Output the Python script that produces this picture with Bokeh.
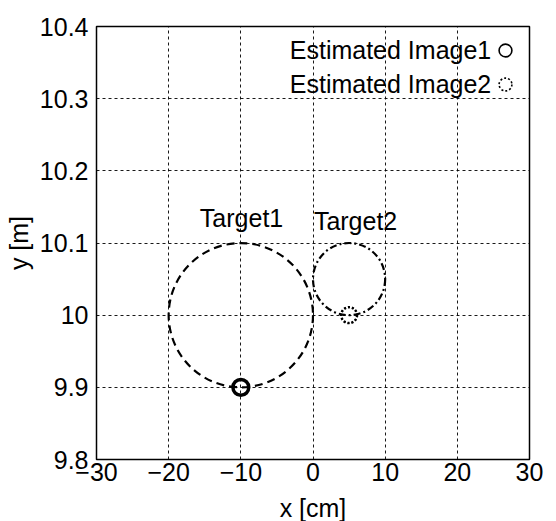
from bokeh.plotting import figure
from bokeh.models import Range1d, Label, Legend, LegendItem
from bokeh.embed import file_html
from bokeh.resources import INLINE

# ---- data ----
target_names = ["Target1", "Target2"]
target_x = [-10.0, 5.0]       # centre x [cm]
target_y = [10.0, 10.05]      # centre y [m]
target_rx = [10.0, 5.0]       # radius in x [cm]
target_ry = [0.10, 0.05]      # radius in y [m]
est_names = ["Estimated Image1", "Estimated Image2"]
est_x = [-10.0, 5.0]
est_y = [9.9, 10.0]
x_ticks = [-30, -20, -10, 0, 10, 20, 30]
y_ticks = [9.8, 9.9, 10.0, 10.1, 10.2, 10.3, 10.4]
y_tick_labels = ["9.8", "9.9", "10", "10.1", "10.2", "10.3", "10.4"]

FONT = "Liberation Sans"
FS = "25px"

p = figure(frame_width=433, frame_height=433,
           x_range=Range1d(-30, 30), y_range=Range1d(9.8, 10.4),
           output_backend="svg", toolbar_location=None,
           min_border_left=96, min_border_top=26, min_border_right=17, min_border_bottom=54)

p.background_fill_color = "white"
p.border_fill_color = "white"
p.outline_line_color = "black"
p.outline_line_width = 1.5
p.outline_line_alpha = 1.0

# grids
p.xgrid.ticker = x_ticks
p.ygrid.ticker = y_ticks
for g in (p.xgrid, p.ygrid):
    g.grid_line_color = "black"
    g.grid_line_dash = "3 3"
    g.grid_line_width = 1
    g.grid_line_alpha = 0.9

# axes
p.xaxis.ticker = x_ticks
p.yaxis.ticker = y_ticks
p.yaxis.major_label_overrides = {v: s for v, s in zip(y_ticks, y_tick_labels)}
p.xaxis.axis_label = "x [cm]"
p.yaxis.axis_label = "y [m]"
for ax in (p.xaxis, p.yaxis):
    ax.axis_line_color = None
    ax.major_tick_in = 0
    ax.major_tick_out = 0
    ax.minor_tick_line_color = None
    ax.major_label_text_font = FONT
    ax.major_label_text_font_size = FS
    ax.major_label_text_color = "black"
    ax.axis_label_text_font = FONT
    ax.axis_label_text_font_size = FS
    ax.axis_label_text_font_style = "normal"
    ax.axis_label_text_color = "black"
p.xaxis.major_label_standoff = 3
p.xaxis.axis_label_standoff = 10
p.yaxis.major_label_standoff = 8
p.yaxis.axis_label_standoff = 4

# targets
p.ellipse(x=[target_x[0]], y=[target_y[0]], width=2 * target_rx[0], height=2 * target_ry[0],
          fill_color=None, line_color="black", line_width=2.2, line_dash="8 5")
p.ellipse(x=[target_x[1]], y=[target_y[1]], width=2 * target_rx[1], height=2 * target_ry[1],
          fill_color=None, line_color="black", line_width=2.2, line_dash="7 3 2 3")

# estimated images (thin ring used as legend glyph, thicker ring on top)
e1 = p.ellipse(x=[est_x[0]], y=[est_y[0]], width=2.2, height=0.022,
               fill_color=None, line_color="black", line_width=1.6)
p.ellipse(x=[est_x[0]], y=[est_y[0]], width=2.2, height=0.022,
          fill_color=None, line_color="black", line_width=3.5)
e2 = p.ellipse(x=[est_x[1]], y=[est_y[1]], width=2.2, height=0.022,
               fill_color=None, line_color="black", line_width=1.6, line_dash="2 2")
p.ellipse(x=[est_x[1]], y=[est_y[1]], width=2.2, height=0.022,
          fill_color=None, line_color="black", line_width=2.5, line_dash="2 2")

# target labels
p.add_layout(Label(x=-9.9, y=10.134, text=target_names[0], text_align="center",
                   text_baseline="alphabetic", text_font=FONT, text_font_size=FS, text_color="black"))
p.add_layout(Label(x=5.9, y=10.131, text=target_names[1], text_align="center",
                   text_baseline="alphabetic", text_font=FONT, text_font_size=FS, text_color="black"))

# legend: text on the left, marker on the right
p.add_layout(Label(x=24.7, y=10.368, text=est_names[0], text_align="right",
                   text_baseline="alphabetic", text_font=FONT, text_font_size=FS, text_color="black"))
p.add_layout(Label(x=24.7, y=10.321, text=est_names[1], text_align="right",
                   text_baseline="alphabetic", text_font=FONT, text_font_size=FS, text_color="black"))

leg = Legend(items=[LegendItem(label=" ", renderers=[e1]), LegendItem(label=" ", renderers=[e2])],
             location="top_right", margin=16, padding=0, spacing=18,
             glyph_width=16, glyph_height=16, label_width=0, label_height=16, label_standoff=0,
             label_text_font_size="1px", border_line_color=None,
             background_fill_alpha=0)
p.add_layout(leg)

open("out.html", "w").write(file_html(p, INLINE))
